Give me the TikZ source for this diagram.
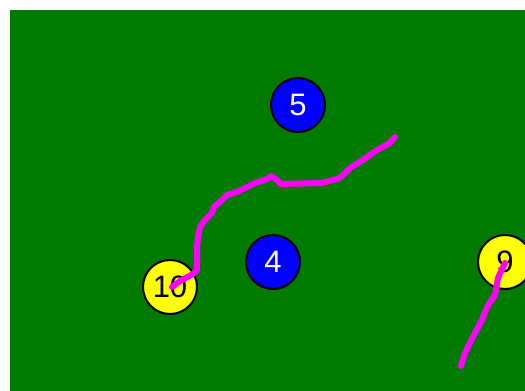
\documentclass[tikz,border=0pt]{standalone}
\usepackage{fontspec}
\setmainfont{Liberation Sans}
\definecolor{bggreen}{RGB}{0,123,0}
\definecolor{ballblue}{RGB}{0,0,255}
\definecolor{ballyellow}{RGB}{255,255,0}
\definecolor{trail}{RGB}{255,0,255}
\begin{document}
\begin{tikzpicture}[x=1pt,y=-1pt,
  ball/.style={circle,draw=black,line width=2pt,minimum size=54pt,inner sep=0pt,font=\fontsize{31}{31}\selectfont},
  blueball/.style={ball,fill=ballblue,text=white},
  yellowball/.style={ball,fill=ballyellow,text=black},
  trailline/.style={draw=trail,line width=6pt,line join=round,line cap=round}]
\useasboundingbox (0,0) rectangle (525,391);
\fill[white] (0,0) rectangle (525,391);
\fill[bggreen] (10,10) rectangle (525,391);
\node[blueball] (n5) at (298,105) {5};
\node[blueball] (n4) at (273,262) {4};
\node[yellowball] (n10) at (170,287) {10};
\node[yellowball] (n9) at (505,262) {9};
\coordinate (e1) at (395,137);
\coordinate (e2) at (461,366);
\draw[trailline] (172,287) -- (180,281) -- (193,274) -- (197,270) -- (197,247) -- (198,237) -- (200,227) -- (205,220) -- (212,213) -- (214,207) -- (220,202) -- (227,195) -- (237,192) -- (247,187) -- (255,183) -- (265,180) -- (272,176) -- (278,181) -- (280,184) -- (322,183) -- (340,178) -- (350,168) -- (363,160) -- (377,150) -- (390,143) -- (e1);
\draw[trailline] (505,263) -- (498,278) -- (495,295) -- (487,307) -- (482,320) -- (475,333) -- (470,343) -- (465,353) -- (e2);
\end{tikzpicture}
\end{document}
